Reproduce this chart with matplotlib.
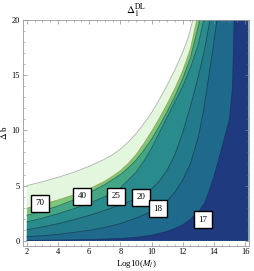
import numpy as np
import matplotlib.pyplot as plt
from matplotlib.ticker import MultipleLocator

plt.rcParams['font.family'] = ['Liberation Serif', 'DejaVu Serif']
plt.rcParams['mathtext.fontset'] = 'stix'

# contour boundaries (log10(M), delta b)
lw_x = [2, 3, 4, 5, 6, 7, 7.5, 8, 8.5, 9, 9.5, 10, 10.5, 11, 11.5, 12, 12.35, 12.65]
lw_y = [5.0, 5.35, 5.75, 6.2, 6.75, 7.4, 7.8, 8.3, 8.95, 9.7, 10.6, 11.6, 12.8, 14.1, 15.5, 17.1, 18.4, 20]

l70_x = [2, 3, 4, 5, 6, 7, 7.5, 8, 8.5, 9, 9.5, 10, 10.5, 11, 11.5, 12, 12.5, 12.9]
l70_y = [2.95, 3.3, 3.7, 4.15, 4.7, 5.4, 5.85, 6.35, 7.0, 7.8, 8.8, 9.9, 11.1, 12.4, 13.8, 15.4, 17.4, 20]

l40_x = [2, 3, 4, 5, 6, 7, 8, 8.5, 9, 9.5, 10, 10.5, 11, 11.5, 12, 12.5, 13.1]
l40_y = [2.3, 2.7, 3.15, 3.7, 4.35, 5.1, 6.0, 6.6, 7.3, 8.2, 9.2, 10.4, 11.7, 13.1, 14.7, 16.6, 20]

l25_x = [2, 3, 4, 5, 6, 7, 7.7, 8, 9, 9.5, 10, 10.5, 11, 11.5, 12, 12.5, 13, 13.34]
l25_y = [1.7, 2.05, 2.45, 2.9, 3.4, 4.0, 4.5, 4.8, 6.2, 7.2, 8.4, 9.8, 11.2, 12.6, 14.0, 15.7, 17.8, 20]

l20_x = [2, 3, 4, 5, 6, 7, 8, 9, 9.35, 10, 10.5, 11, 11.5, 12, 12.5, 13, 13.4, 13.75]
l20_y = [1.0, 1.25, 1.55, 1.9, 2.3, 2.75, 3.25, 3.8, 4.0, 4.7, 5.4, 6.4, 7.8, 9.8, 12.2, 14.9, 17.3, 20]

l18_x = [2, 3, 4, 5, 6, 7, 8, 9, 10, 10.4, 11, 11.5, 12, 12.5, 13, 13.3, 13.6, 13.9, 14.2]
l18_y = [0.37, 0.45, 0.58, 0.75, 0.95, 1.2, 1.55, 2.05, 2.65, 2.95, 3.6, 4.4, 5.5, 7.0, 9.4, 11.5, 14.2, 17.0, 20]

l17_x = [2, 4, 6, 8, 9, 10, 11, 11.5, 12, 12.5, 13, 13.4, 13.7, 14.0, 14.3, 14.6, 15.0, 15.2, 15.3]
l17_y = [0.03, 0.06, 0.1, 0.2, 0.3, 0.5, 0.85, 1.1, 1.45, 1.95, 2.6, 3.4, 4.5, 5.8, 7.3, 8.9, 11.0, 14.0, 20]

curves = [(lw_x, lw_y), (l70_x, l70_y), (l40_x, l40_y), (l25_x, l25_y),
          (l20_x, l20_y), (l18_x, l18_y), (l17_x, l17_y)]
colors = ['#e3f7df', '#7cc87a', '#45a686', '#2a8b8c', '#237a8a', '#1f6a8c', '#203a7f']
edge = ['#a0a0a0', '#a09040', '#2b5e50', '#1e4e55', '#1b4050', '#183a55', '#18305f']

label_txt = ['70', '40', '25', '20', '18', '17']
label_x = [2.85, 5.55, 7.7, 9.35, 10.4, 13.3]
label_y = [3.4, 4.05, 4.05, 3.95, 2.9, 1.9]

x_end = 16.2

fig = plt.figure(figsize=(2.54, 2.71), dpi=100)
ax = fig.add_axes([0.0906, 0.0934, 0.8894, 0.8346])

# stacked fills, each one covers everything below/right of its curve
for (cx, cy), c in zip(curves, colors):
    px = list(cx) + [x_end, x_end, 2]
    py = list(cy) + [20, 0, 0]
    ax.fill(px, py, color=c, lw=0, zorder=1)

for (cx, cy), e in zip(curves, edge):
    ax.plot(cx, cy, color=e, lw=0.6, alpha=0.8, zorder=2)

for t, x, y in zip(label_txt, label_x, label_y):
    ax.text(x, y, t, ha='center', va='center', fontsize=6.5, zorder=5,
            bbox=dict(boxstyle='square,pad=0.5', fc='white', ec='black', lw=1.0))

ax.set_xlim(1.75, 16.25)
ax.set_ylim(-0.45, 20.05)
ax.xaxis.set_major_locator(MultipleLocator(2))
ax.xaxis.set_minor_locator(MultipleLocator(0.5))
ax.yaxis.set_major_locator(MultipleLocator(5))
ax.yaxis.set_minor_locator(MultipleLocator(1))
ax.tick_params(which='both', direction='in', top=True, right=True,
               labelsize=6, color='#888888', pad=2)
ax.tick_params(which='major', length=3, width=0.5)
ax.tick_params(which='minor', length=1.5, width=0.4)
for s in ax.spines.values():
    s.set_color('#999999')
    s.set_linewidth(0.6)

ax.set_title(r'$\Delta_1^{\mathrm{DL}}$', fontsize=8, pad=3)
ax.set_xlabel(r'Log10($M_l$)', fontsize=6.5, labelpad=1)
ax.set_ylabel(r'$\Delta$ b', fontsize=6.5, labelpad=2)

fig.savefig('out.png', dpi=100)
